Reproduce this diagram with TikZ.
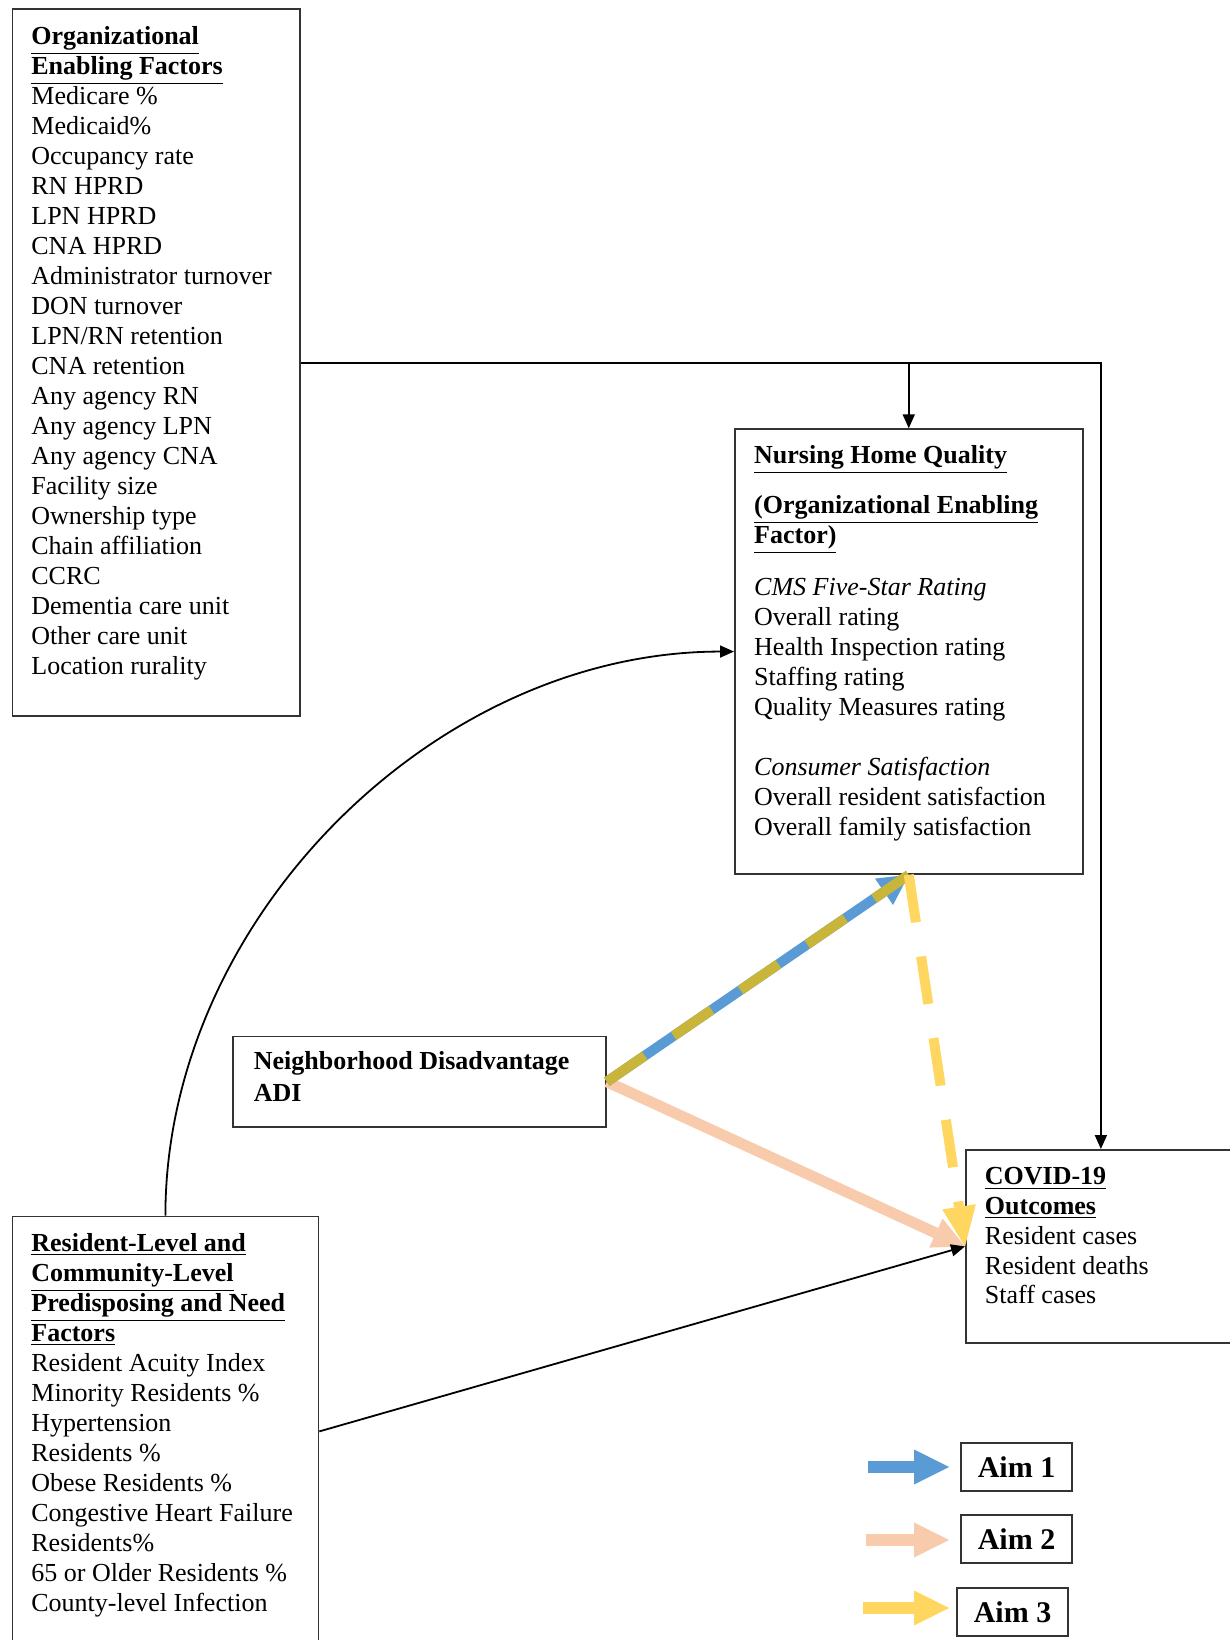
\documentclass[tikz,border=0pt]{standalone}
\usepackage{fontspec}
\setmainfont{Liberation Serif}
\usetikzlibrary{arrows.meta,positioning}

\definecolor{aimblue}{RGB}{91,155,213}
\definecolor{aimpeach}{RGB}{248,203,173}
\definecolor{aimyellow}{RGB}{255,214,96}
\definecolor{aimolive}{RGB}{201,181,58}

\newcommand{\panelbody}[4]{\parbox[t][#2][t]{#1}{\fontsize{13}{#3}\selectfont\raggedright\strut#4}}
\newcommand{\hd}[1]{\textbf{\underline{#1}}}

\begin{document}
\begin{tikzpicture}[x=0.5pt,y=-0.5pt,
  >={Triangle[length=7pt,width=6pt]},
  panel/.style={draw=black!80,line width=0.9pt,anchor=north west,inner xsep=9.5pt,inner ysep=7pt},
  link/.style={->,line width=0.9pt},
  aimone/.style={draw=aimblue,line width=5pt,-{Triangle[length=15pt,width=16pt,line width=0pt]}},
  aimtwo/.style={draw=aimpeach,line width=5.5pt,-{Triangle[length=16pt,width=16pt,line width=0pt]}},
  aimthree/.style={draw=aimyellow,line width=5pt,dash pattern=on 24pt off 17.3pt,-{Triangle[length=20pt,width=17pt,line width=0pt]}},
  aimmix/.style={draw=aimolive,line width=5pt,dash pattern=on 23pt off 17.5pt},
  aimkey/.style={draw=black!80,line width=0.9pt,minimum width=55.5pt,minimum height=24pt,inner sep=0pt,font=\fontsize{15}{18}\selectfont\bfseries},
  keyarrow/.style={line width=6pt,-{Triangle[length=17.5pt,width=17.5pt,line width=0pt]}}]
\useasboundingbox (0,0) rectangle (1230,1640);
\clip (0,0) rectangle (1230,1640);

\node[panel,inner ysep=7.3pt] (org) at (11.5,8.4) {\panelbody{124.75pt}{338.7pt}{15pt}{%
  \hd{Organizational}\\
  \hd{Enabling Factors}\\
  Medicare \%\\
  Medicaid\%\\
  Occupancy rate\\
  RN HPRD\\
  LPN HPRD\\
  CNA HPRD\\
  Administrator turnover\\
  DON turnover\\
  LPN/RN retention\\
  CNA retention\\
  Any agency RN\\
  Any agency LPN\\
  Any agency CNA\\
  Facility size\\
  Ownership type\\
  Chain affiliation\\
  CCRC\\
  Dementia care unit\\
  Other care unit\\
  Location rurality}};

\node[panel,inner xsep=9.65pt,inner ysep=6.7pt] (nhq) at (734,428.3) {\panelbody{154.55pt}{208.95pt}{15pt}{%
  \hd{Nursing Home Quality}\\[10pt]
  \hd{(Organizational Enabling}\\
  \hd{Factor)}\\[11pt]
  \textit{CMS Five-Star Rating}\\
  Overall rating\\
  Health Inspection rating\\
  Staffing rating\\
  Quality Measures rating\\[15pt]
  \textit{Consumer Satisfaction}\\
  Overall resident satisfaction\\
  Overall family satisfaction}};

\node[panel,inner xsep=10.5pt,inner ysep=5.7pt] (nda) at (232,1035.6) {\panelbody{165.5pt}{33.8pt}{15.75pt}{%
  \textbf{Neighborhood Disadvantage}\\
  \textbf{ADI}}};

\node[panel,inner ysep=7.1pt] (covid) at (965,1149) {\panelbody{116pt}{82.3pt}{14.85pt}{%
  \hd{COVID-19}\\
  \hd{Outcomes}\\
  Resident cases\\
  Resident deaths\\
  Staff cases}};

\node[panel,inner ysep=7.1pt] (res) at (11.5,1215.5) {\panelbody{134pt}{200.8pt}{15pt}{%
  \hd{Resident-Level and}\\
  \hd{Community-Level}\\
  \hd{Predisposing and Need}\\
  \hd{Factors}\\
  Resident Acuity Index\\
  Minority Residents \%\\
  Hypertension\\
  Residents \%\\
  Obese Residents \%\\
  Congestive Heart Failure\\
  Residents\%\\
  65 or Older Residents \%\\
  County-level Infection}};

% aims
\draw[aimtwo] (nda.east) -- (covid.west);
\draw[aimone] (nda.east) -- (nhq.south);
\draw[aimmix] (nda.east) -- (nhq.south);
\draw[aimthree] (nhq.south) -- (covid.west);

\draw[link] (org.east) -| (nhq.north);
\draw[link] (org.east) -| (covid.north);
\draw[link] (res.north) .. controls +(0,-295) and +(-300,0) .. (nhq.west);
\draw[link] (res.east) -- (covid.west);

% legend
\node[aimkey] (aim1) at (1016.5,1467) {Aim 1};
\node[aimkey] (aim2) at (1016.5,1539) {Aim 2};
\node[aimkey] (aim3) at (1012.5,1612) {Aim 3};
\coordinate (key1) at (868,1467);
\coordinate (key2) at (866,1540);
\coordinate (key3) at (863,1608);
\draw[keyarrow,draw=aimblue,shorten >=5.5pt] (key1) -- (aim1.west);
\draw[keyarrow,draw=aimpeach,shorten >=5.5pt] (key2) -- (key2 -| aim2.west);
\draw[keyarrow,draw=aimyellow,shorten >=3.5pt] (key3) -- (key3 -| aim3.west);
\end{tikzpicture}
\end{document}
